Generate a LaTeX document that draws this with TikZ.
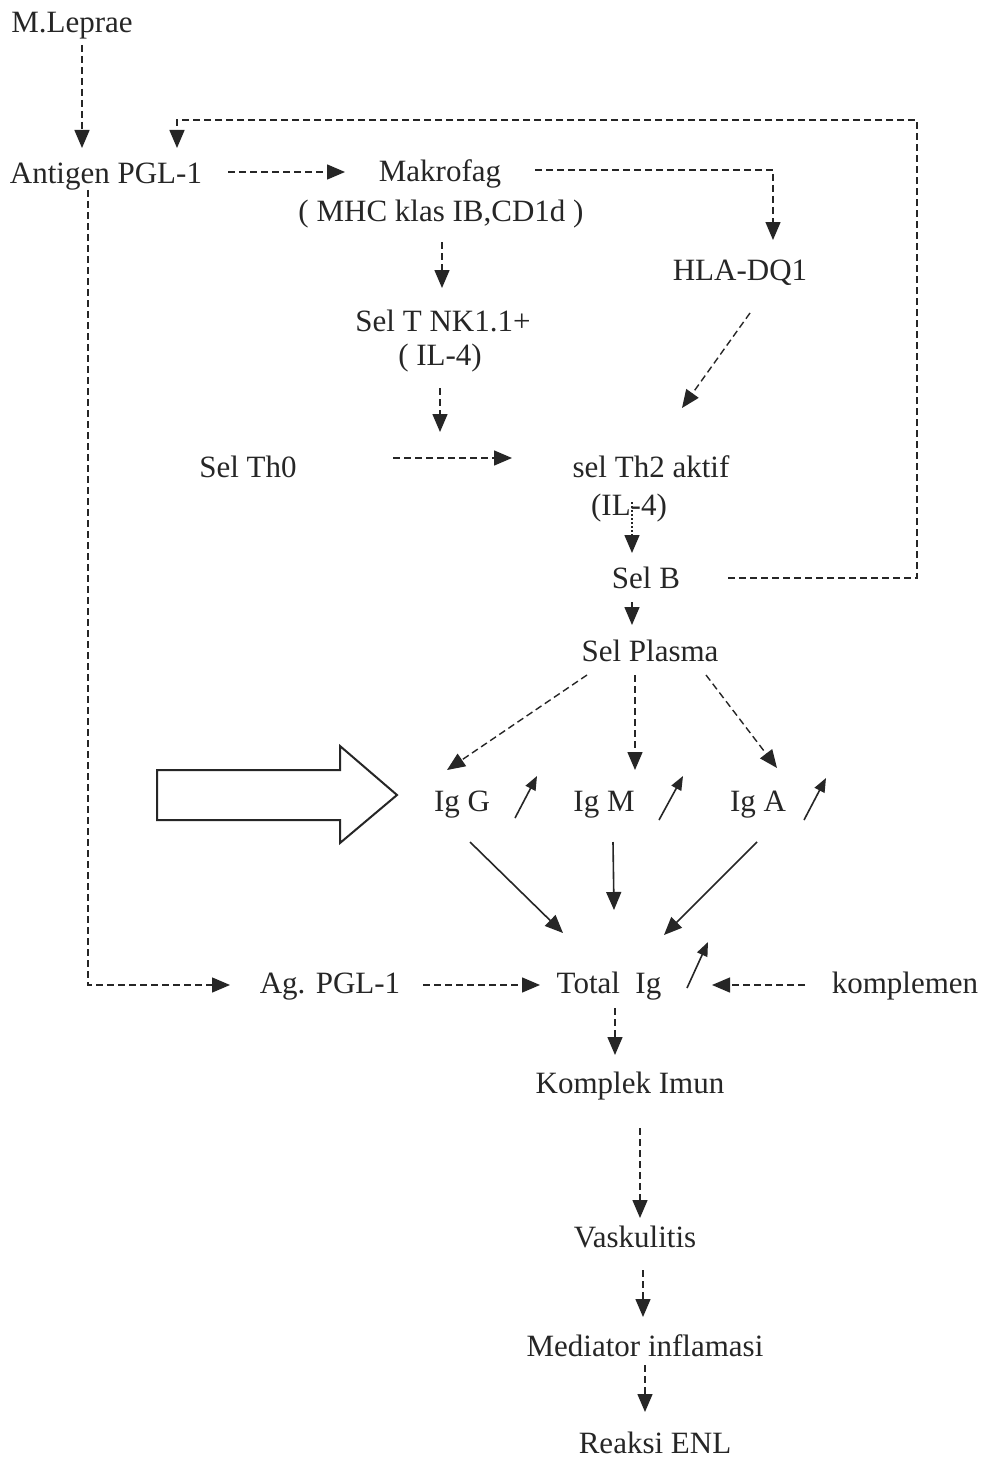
\documentclass[tikz,border=0pt]{standalone}
\usepackage{fontspec}
\setmainfont{Liberation Serif}
\usetikzlibrary{arrows.meta,calc}
\begin{document}
\begin{tikzpicture}[x=1pt,y=-1pt,
  lbl/.style={anchor=base,inner sep=0pt,font=\fontsize{31}{36}\selectfont,text=black!85},
  da/.style={draw=black!85,line width=1.4pt,dash pattern=on 7pt off 4pt,-{Triangle[length=18pt,width=15pt]}},
  so/.style={draw=black!85,line width=1.6pt,-{Triangle[length=18pt,width=15pt]}},
  up/.style={draw=black!85,line width=1.6pt,-{Triangle[length=14pt,width=11pt]}},
  dt/.style={draw=black!85,line width=1.4pt,dash pattern=on 2pt off 2pt,-{Triangle[length=18pt,width=15pt]}}]
\useasboundingbox (0,0) rectangle (990,1458);
\fill[white] (0,0) rectangle (990,1458);
% nodes
\node[lbl] (lep) at (72,33) {M.Leprae};
\node[lbl] (ant) at (106,183) {Antigen PGL-1};
\node[lbl] (mak) at (440,182) {Makrofag};
\node[lbl] (mhc) at (441,221) {( MHC klas IB,CD1d )};
\node[lbl] (hla) at (740,280) {HLA-DQ1};
\node[lbl] (nkt) at (443,331) {Sel T NK1.1+};
\node[lbl] (il4a) at (440,365) {( IL-4)};
\node[lbl] (th0) at (248,477) {Sel Th0};
\node[lbl] (th2) at (651,477) {sel Th2 aktif};
\node[lbl] (il4b) at (629,515) {(IL-4)};
\node[lbl] (selb) at (646,588) {Sel B};
\node[lbl] (plas) at (650,661) {Sel Plasma};
\node[lbl] (igg) at (462,811) {Ig G};
\node[lbl] (igm) at (604,811) {Ig M};
\node[lbl] (iga) at (758,811) {Ig A};
\node[lbl] (agp) at (330,993) {Ag. PGL-1};
\node[lbl] (tot) at (609,993) {Total\ \ Ig};
\node[lbl] (kom) at (905,993) {komplemen};
\node[lbl] (kimun) at (630,1093) {Komplek Imun};
\node[lbl] (vask) at (635,1247) {Vaskulitis};
\node[lbl] (medi) at (645,1356) {Mediator inflamasi};
\node[lbl] (enl) at (655,1453) {Reaksi ENL};
% connectors
\draw[da] ($(lep.base)+(10,12)$) -- ($(ant.base)+(-24,-35)$);
\coordinate (fbA) at (917,578);
\coordinate (fbB) at (917,120);
\coordinate (fbC) at (177,120);
\draw[da] ($(selb.base)+(82,-10)$) -- (fbA) -- (fbB) -- (fbC) -- ($(ant.base)+(71,-35)$);
\draw[da] ($(ant.base)+(122,-11)$) -- ($(mak.base)+(-95,-10)$);
\coordinate (mhR) at (773,170);
\draw[da] ($(mak.base)+(95,-12)$) -- (mhR) -- ($(hla.base)+(33,-40)$);
\draw[da] ($(mhc.base)+(1,21)$) -- ($(nkt.base)+(-1,-43)$);
\coordinate (nkEnd) at (440,432);
\draw[da] ($(il4a.base)+(0,23)$) -- (nkEnd);
\draw[da] ($(hla.base)+(10,33)$) -- ($(th2.base)+(31,-69)$);
\draw[da] ($(th0.base)+(145,-19)$) -- ($(th2.base)+(-139,-19)$);
\draw[dt] ($(il4b.base)+(3,-13)$) -- ($(selb.base)+(-14,-35)$);
\draw[da] ($(selb.base)+(-14,14)$) -- ($(plas.base)+(-18,-36)$);
\draw[da] ($(plas.base)+(-63,14)$) -- ($(igg.base)+(-15,-41)$);
\draw[da] ($(plas.base)+(-15,14)$) -- ($(igm.base)+(31,-41)$);
\draw[da] ($(plas.base)+(56,14)$) -- ($(iga.base)+(19,-43)$);
% increase arrows
\draw[up] ($(igg.base)+(53,7)$) -- ($(igg.base)+(75,-35)$);
\draw[up] ($(igm.base)+(55,9)$) -- ($(igm.base)+(79,-35)$);
\draw[up] ($(iga.base)+(46,9)$) -- ($(iga.base)+(68,-33)$);
\draw[up] ($(tot.base)+(78,-5)$) -- ($(tot.base)+(99,-51)$);
% big hollow arrow
\draw[draw=black!85,line width=2pt,line join=miter] (157,770) -- (340,770) -- (340,746) -- (397,795) -- (340,843) -- (340,820) -- (157,820) -- cycle;
% solid to total
\draw[so] ($(igg.base)+(8,31)$) -- ($(tot.base)+(-46,-60)$);
\draw[so] ($(igm.base)+(9,31)$) -- ($(tot.base)+(5,-83)$);
\draw[so] ($(iga.base)+(-1,31)$) -- ($(tot.base)+(55,-58)$);
\draw[da] ($(kom.base)+(-100,-8)$) -- ($(tot.base)+(103,-8)$);
\draw[da] ($(agp.base)+(93,-8)$) -- ($(tot.base)+(-69,-8)$);
\coordinate (agL) at (88,985);
\draw[da] ($(ant.base)+(-18,7)$) -- (agL) -- ($(agp.base)+(-100,-8)$);
\draw[da] ($(tot.base)+(6,15)$) -- ($(kimun.base)+(-15,-38)$);
\draw[da] ($(kimun.base)+(10,35)$) -- ($(vask.base)+(5,-29)$);
\draw[da] ($(vask.base)+(8,23)$) -- ($(medi.base)+(-2,-39)$);
\draw[da] ($(medi.base)+(0,9)$) -- ($(enl.base)+(-10,-41)$);
\end{tikzpicture}
\end{document}
